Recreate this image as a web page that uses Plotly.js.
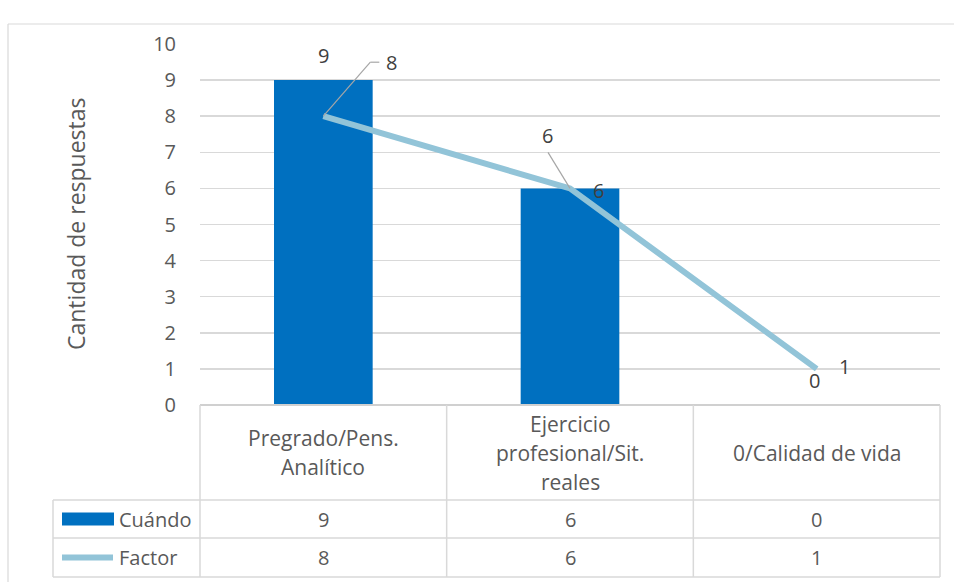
<!DOCTYPE html>
<html>
<head>
<meta charset="utf-8">
<script src="https://cdn.plot.ly/plotly-3.0.1.min.js"></script>
<style>html,body{margin:0;padding:0;background:#fff;}#chart{width:954px;height:582px;}</style>
</head>
<body>
<div id="chart"></div>
<script>
// ---- data ----
const categories = ["Pregrado/Pens. Analítico", "Ejercicio profesional/Sit. reales", "0/Calidad de vida"];
const categoryLines = [["Pregrado/Pens.", "Analítico"], ["Ejercicio", "profesional/Sit.", "reales"], ["0/Calidad de vida"]];
const cuando = [9, 6, 0];
const factor = [8, 6, 1];
const seriesNames = ["Cuándo", "Factor"];
const yTickVals = [0, 1, 2, 3, 4, 5, 6, 7, 8, 9, 10];
const yTitle = "Cantidad de respuestas";

// ---- style ----
const W = 954, H = 582;
const M = {l: 200, r: 14, t: 44, b: 177};
const plotW = W - M.l - M.r, plotH = H - M.t - M.b;
const px2x = px => (px - M.l) / plotW;
const py2y = py => (H - M.b - py) / plotH;
const FONT = "Open Sans, Noto Sans, sans-serif";
const gridCol = "#d9d9d9";
const textCol = "#595959";
const labelCol = "#404040";
const barCol = "#0070c0";
const lineCol = "#92c4d8";
const leaderCol = "#a6a6a6";

const idx = categories.map((c, i) => i);

const traces = [
  {type: "bar", x: idx, y: cuando, name: seriesNames[0], marker: {color: barCol}, hoverinfo: "none"},
  {type: "scatter", mode: "lines", x: idx, y: factor, name: seriesNames[1],
   line: {color: lineCol, width: 6}, hoverinfo: "none"}
];

const annotations = [];
const shapes = [];

// y axis title
annotations.push({xref: "paper", yref: "paper", x: px2x(58), y: py2y(224), text: yTitle,
  textangle: -90, showarrow: false, font: {family: FONT, size: 23, color: textCol}});

// data labels for bars
const barLabelOffsets = [[0, 25], [28, -2], [-2, 25]];
cuando.forEach((v, i) => {
  annotations.push({x: idx[i], y: v, xref: "x", yref: "y", text: String(v), showarrow: false,
    xshift: barLabelOffsets[i][0], yshift: barLabelOffsets[i][1],
    font: {family: FONT, size: 20, color: labelCol}});
});
// data labels for line: [xshift, yshift, leader polyline in pixel offsets]
const lineLabelOffsets = [
  [68, 54, [[0, 0], [47, 54], [56, 54]]],
  [-23, 53, [[0, 0], [-22, 36]]],
  [28, 2, null]
];
factor.forEach((v, i) => {
  const o = lineLabelOffsets[i];
  annotations.push({x: idx[i], y: v, xref: "x", yref: "y", text: String(v), showarrow: false,
    xshift: o[0], yshift: o[1], font: {family: FONT, size: 20, color: labelCol}});
  if (o[2]) {
    for (let k = 0; k < o[2].length - 1; k++) {
      shapes.push({type: "line", xref: "x", yref: "y", xsizemode: "pixel", ysizemode: "pixel",
        xanchor: idx[i], yanchor: v,
        x0: o[2][k][0], y0: o[2][k][1], x1: o[2][k + 1][0], y1: o[2][k + 1][1],
        line: {color: leaderCol, width: 1.2}, layer: "above"});
    }
  }
});

// ---- data table ----
const tableLeft = 53, plotLeft = M.l, plotRight = W - M.r;
const rowTop = 405, hdrBottom = 500, row1Bottom = 538, row2Bottom = 577;
const colW = plotW / categories.length;
const line = (x0, y0, x1, y1, col, w) => shapes.push({type: "line", xref: "paper", yref: "paper",
  x0: px2x(x0), y0: py2y(y0), x1: px2x(x1), y1: py2y(y1), line: {color: col || gridCol, width: w || 1.5}, layer: "above"});

// outer chart frame
line(8, 24, W + 5, 24, "#d9d9d9", 1.2);
line(8, 24, 8, H + 5, "#d9d9d9", 1.2);

// horizontal table lines
line(plotLeft, rowTop, plotRight, rowTop, "#d0d0d0", 2);
line(tableLeft, hdrBottom, plotRight, hdrBottom);
line(tableLeft, row1Bottom, plotRight, row1Bottom);
line(tableLeft, row2Bottom, plotRight, row2Bottom);
// vertical lines
for (let i = 0; i <= categories.length; i++) {
  const xx = plotLeft + i * colW;
  line(xx, rowTop, xx, row2Bottom);
}
line(tableLeft, hdrBottom, tableLeft, row2Bottom);

// category headers
const lineSpacing = 29;
const hdrMid = (rowTop + hdrBottom) / 2;
categoryLines.forEach((lines, i) => {
  const cx = plotLeft + (i + 0.5) * colW;
  lines.forEach((t, j) => {
    const cy = hdrMid + (j - (lines.length - 1) / 2) * lineSpacing;
    annotations.push({xref: "paper", yref: "paper", x: px2x(cx), y: py2y(cy), text: t, showarrow: false,
      xanchor: "center", yanchor: "middle", font: {family: FONT, size: 21, color: textCol}});
  });
});

// value rows
const rowMids = [(hdrBottom + row1Bottom) / 2, (row1Bottom + row2Bottom) / 2];
[cuando, factor].forEach((arr, r) => {
  arr.forEach((v, i) => {
    const cx = plotLeft + (i + 0.5) * colW;
    annotations.push({xref: "paper", yref: "paper", x: px2x(cx), y: py2y(rowMids[r]), text: String(v), showarrow: false,
      xanchor: "center", yanchor: "middle", font: {family: FONT, size: 20, color: textCol}});
  });
  // legend cell label
  annotations.push({xref: "paper", yref: "paper", x: px2x(117), y: py2y(rowMids[r]), text: seriesNames[r], showarrow: false,
    xanchor: "left", yanchor: "middle", font: {family: FONT, size: 20, color: textCol}});
});
// legend keys
shapes.push({type: "rect", xref: "paper", yref: "paper", x0: px2x(62), x1: px2x(114),
  y0: py2y(rowMids[0] - 6.5), y1: py2y(rowMids[0] + 6.5), fillcolor: barCol, line: {width: 0}, layer: "above"});
shapes.push({type: "line", xref: "paper", yref: "paper", x0: px2x(62), x1: px2x(113),
  y0: py2y(rowMids[1]), y1: py2y(rowMids[1]), line: {color: lineCol, width: 6}, layer: "above"});

const layout = {
  width: W, height: H,
  margin: M,
  paper_bgcolor: "#ffffff", plot_bgcolor: "#ffffff",
  showlegend: false,
  bargap: 0.6,
  font: {family: FONT, color: textCol},
  xaxis: {range: [-0.5, 2.5], showticklabels: false, showgrid: false, zeroline: false, ticks: "", fixedrange: true},
  yaxis: {range: [0, 10], tickvals: yTickVals, ticktext: yTickVals.map(String), showgrid: true, gridcolor: gridCol, gridwidth: 1.5,
    zeroline: false, ticks: "", ticklabelstandoff: 23, tickfont: {family: FONT, size: 20, color: textCol}, automargin: false, fixedrange: true},
  annotations: annotations,
  shapes: shapes
};

Plotly.newPlot("chart", traces, layout, {displayModeBar: false, staticPlot: true});
</script>
</body>
</html>
